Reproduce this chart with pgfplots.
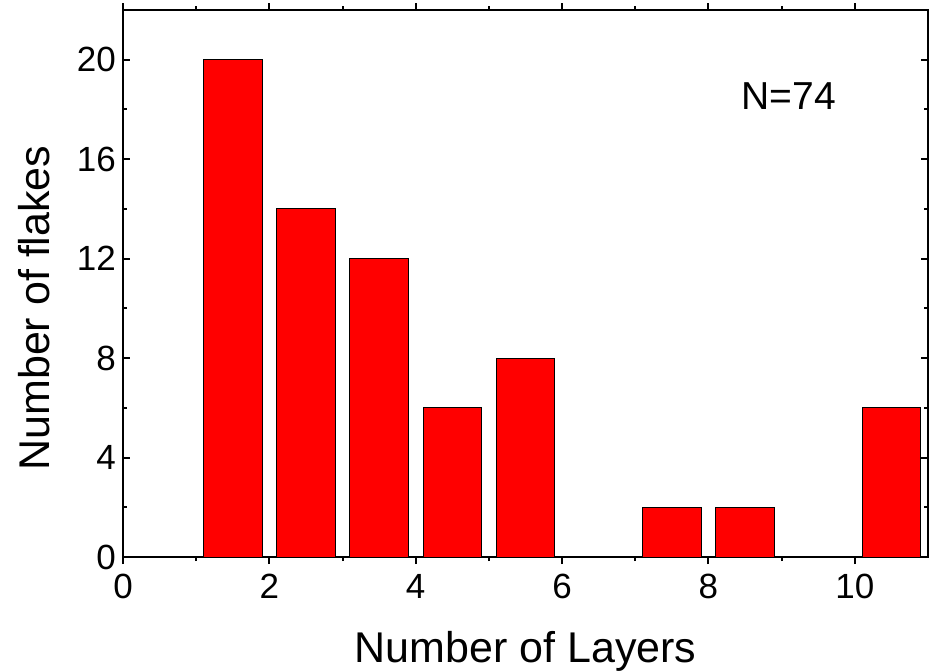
\documentclass[border=0pt]{standalone}
\usepackage{fontspec}
\setmainfont{Liberation Sans}
\usepackage{pgfplots}
\pgfplotsset{compat=1.18}

\begin{document}
\begin{tikzpicture}
\begin{axis}[
    name=ax,
    scale only axis,
    width=402.5pt,
    height=273.5pt,
    xmin=0, xmax=11,
    ymin=0, ymax=22,
    xtick={0,2,4,6,8,10},
    ytick={0,4,8,12,16,20},
    minor x tick num=1,
    minor y tick num=1,
    tick align=inside,
    major tick length=3.5pt,
    minor tick length=2pt,
    axis line style={line width=1pt},
    every tick/.style={line width=1pt, black},
    /pgf/number format/assume math mode=true,
    tick label style={font=\fontsize{17.5}{21}\selectfont},
    xticklabel style={yshift=-1.5pt},
    xlabel={Number of Layers},
    ylabel={Number of flakes},
    label style={font=\fontsize{21.5}{26}\selectfont},
    xlabel style={at={(axis description cs:0.5,-0.192)}, anchor=base},
    ylabel style={at={(axis description cs:-0.0907,0.455)}, anchor=base},
    ybar,
    bar width=0.8,
    clip=false,
]
\addplot[fill=red, draw=black, line width=0.5pt] coordinates {
    (1.5,20) (2.5,14) (3.5,12) (4.5,6) (5.5,8)
    (7.5,2) (8.5,2) (10.5,6)
};
\node[font=\fontsize{19.5}{23}\selectfont] at (axis cs:9.1,18.55) {N=74};
\end{axis}
\pgfresetboundingbox
\path ([xshift=-61.5pt,yshift=-57pt]ax.south west) rectangle ([xshift=5pt,yshift=5pt]ax.north east);
\end{tikzpicture}
\end{document}
